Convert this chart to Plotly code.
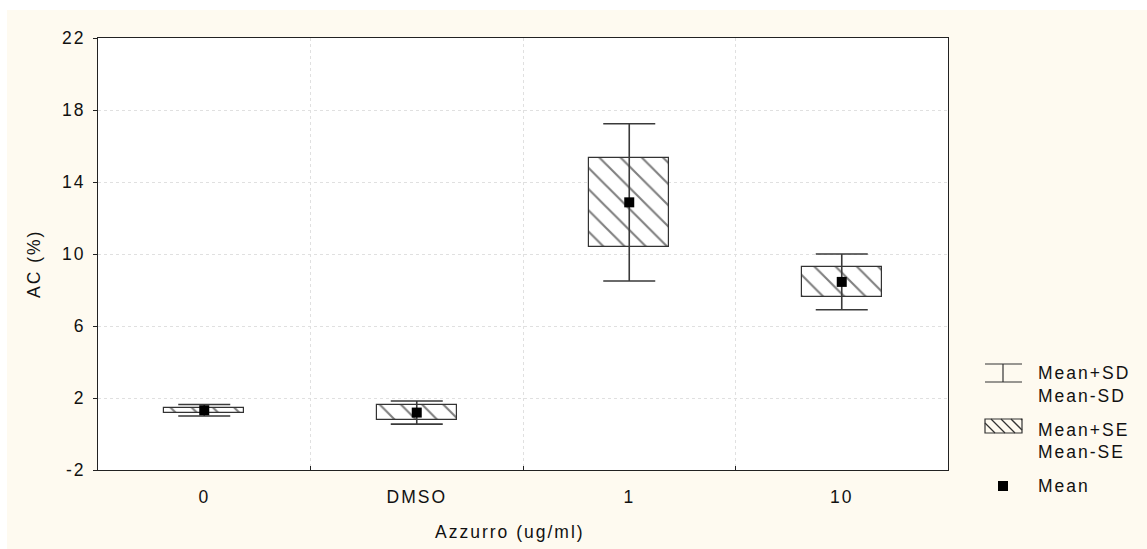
import plotly.graph_objects as go

# Groups and summary statistics for AC (%)
groups = ["0", "DMSO", "1", "10"]
mean_vals = [1.32, 1.19, 12.87, 8.45]
se_vals = [0.14, 0.42, 2.47, 0.83]
sd_vals = [0.32, 0.64, 4.37, 1.55]
y_ticks = [-2, 2, 6, 10, 14, 18, 22]
y_tick_text = ["-2", "2", "6", "10", "14", "18", "22"]

W, H = 1147, 549
L, R, T, B = 98, 948, 38, 470   # plot area in pixels

CREAM = "#FEFAF0"
INK = "#222222"
FONT = "Liberation Sans, Arial, sans-serif"
FS = 17.5


def px_x(x):
    return (x - L) / (R - L)


def px_y(y):
    return (B - y) / (B - T)


fig = go.Figure()

# Mean ± SE boxes (hatched)
fig.add_trace(go.Bar(
    x=groups,
    y=[2 * s for s in se_vals],
    base=[m - s for m, s in zip(mean_vals, se_vals)],
    width=0.376,
    marker=dict(
        color="white",
        line=dict(color="#333333", width=1.2),
        pattern=dict(shape="\\", size=15, solidity=0.14,
                     fgcolor="#000000", bgcolor="white", fillmode="overlay"),
    ),
    showlegend=False,
    hoverinfo="skip",
))

# Mean points with ± SD whiskers
fig.add_trace(go.Scatter(
    x=groups,
    y=mean_vals,
    mode="markers",
    marker=dict(symbol="square", size=10, color="black"),
    error_y=dict(type="data", array=sd_vals, symmetric=True,
                 width=26, thickness=1.6, color="#3A3A3A"),
    showlegend=False,
))

shapes = []
# white margin strips around the cream page
shapes.append(dict(type="rect", xref="paper", yref="paper",
                   x0=px_x(0), x1=px_x(W), y0=px_y(0), y1=px_y(10),
                   fillcolor="white", line=dict(width=0), layer="below"))
shapes.append(dict(type="rect", xref="paper", yref="paper",
                   x0=px_x(0), x1=px_x(7), y0=px_y(0), y1=px_y(H),
                   fillcolor="white", line=dict(width=0), layer="below"))

# custom legend: SD whisker symbol
lx0, lx1, lxc = 985, 1022, 1003
for yy in (364, 382):
    shapes.append(dict(type="line", xref="paper", yref="paper",
                       x0=px_x(lx0), x1=px_x(lx1), y0=px_y(yy), y1=px_y(yy),
                       line=dict(color="#333333", width=1.2)))
shapes.append(dict(type="line", xref="paper", yref="paper",
                   x0=px_x(lxc), x1=px_x(lxc), y0=px_y(364), y1=px_y(382),
                   line=dict(color="#333333", width=1.2)))

# custom legend: hatched SE box
bx0, bx1, by0, by1 = 985, 1022, 419, 433
hh = by1 - by0
k = bx0 - hh
while k < bx1:
    sx0, sy0 = k, by0
    sx1, sy1 = k + hh, by1
    if sx0 < bx0:
        sy0 = by0 + (bx0 - sx0)
        sx0 = bx0
    if sx1 > bx1:
        sy1 = by1 - (sx1 - bx1)
        sx1 = bx1
    if sx1 > sx0:
        shapes.append(dict(type="line", xref="paper", yref="paper",
                           x0=px_x(sx0), x1=px_x(sx1), y0=px_y(sy0), y1=px_y(sy1),
                           line=dict(color="#333333", width=1.3)))
    k += 10
shapes.append(dict(type="rect", xref="paper", yref="paper",
                   x0=px_x(bx0), x1=px_x(bx1), y0=px_y(by0), y1=px_y(by1),
                   line=dict(color="#333333", width=1.2)))

# custom legend: mean marker
shapes.append(dict(type="rect", xref="paper", yref="paper",
                   x0=px_x(998), x1=px_x(1008), y0=px_y(481), y1=px_y(491),
                   fillcolor="black", line=dict(width=0)))

annotations = []
for txt, yy in [("Mean+SD", 373), ("Mean-SD", 396), ("Mean+SE", 430),
                ("Mean-SE", 452), ("Mean", 486)]:
    annotations.append(dict(text=txt, xref="paper", yref="paper",
                            x=px_x(1036), y=px_y(yy), xanchor="left", yanchor="middle",
                            align="left", showarrow=False,
                            font=dict(size=FS, color="#111111", family=FONT)))

annotations.append(dict(text="Azzurro (ug/ml)", xref="paper", yref="paper",
                        x=px_x(510), y=px_y(532), xanchor="center", yanchor="middle",
                        showarrow=False, font=dict(size=FS, color="#111111", family=FONT)))
annotations.append(dict(text="AC (%)", xref="paper", yref="paper",
                        x=px_x(34), y=px_y(264), xanchor="center", yanchor="middle",
                        textangle=-90, showarrow=False,
                        font=dict(size=FS, color="#111111", family=FONT)))

fig.update_layout(
    width=W, height=H,
    margin=dict(l=L, r=W - R, t=T, b=H - B, pad=0),
    paper_bgcolor=CREAM,
    plot_bgcolor="white",
    font=dict(family=FONT, size=FS, color="#111111"),
    shapes=shapes,
    annotations=annotations,
    bargap=0,
)

fig.update_xaxes(
    type="category",
    categoryorder="array", categoryarray=groups,
    tickson="boundaries",
    ticks="inside", ticklen=4, tickcolor=INK,
    showgrid=True, gridcolor="#E0E0E0", griddash="dot", gridwidth=1,
    showline=True, linecolor=INK, linewidth=1, mirror=True,
    ticklabelstandoff=11,
    tickfont=dict(size=FS),
    zeroline=False,
)

fig.update_yaxes(
    range=[-2, 22],
    tickvals=y_ticks,
    ticktext=y_tick_text,
    ticks="outside", ticklen=4, tickcolor=INK,
    showgrid=True, gridcolor="#E0E0E0", griddash="dot", gridwidth=1,
    showline=True, linecolor=INK, linewidth=1, mirror=True,
    ticklabelstandoff=4,
    tickfont=dict(size=FS),
    zeroline=False,
)

# wider letter spacing for all chart text
spacing_js = (
    "var s=document.createElement('style');"
    "s.textContent='.main-svg text{letter-spacing:2px;}';"
    "document.head.appendChild(s);"
)

fig.write_html("out.html", post_script=spacing_js)
